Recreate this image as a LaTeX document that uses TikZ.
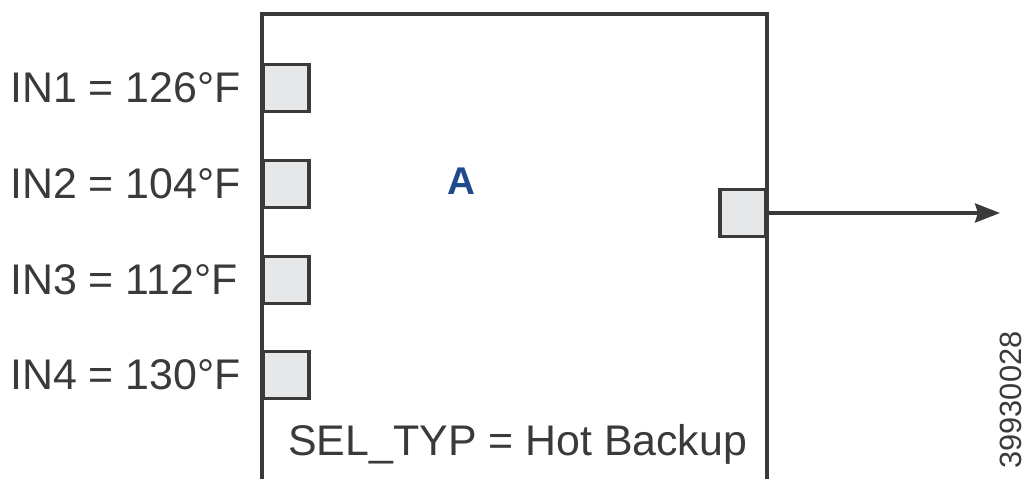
\documentclass[tikz,border=0pt]{standalone}
\usepackage{fontspec}
\setmainfont{Liberation Sans}
\usetikzlibrary{arrows.meta,positioning}
\definecolor{linegray}{RGB}{58,58,58}
\definecolor{portfill}{RGB}{230,231,232}
\definecolor{labelblue}{RGB}{31,74,140}

\begin{document}
\begin{tikzpicture}[
  x=0.02cm, y=-0.02cm,
  every node/.style={font=\fontsize{24.4}{28}\selectfont, text=linegray},
  block/.style={draw=linegray, line width=2.2pt},
  port/.style={draw=linegray, fill=portfill, line width=1.8pt, minimum width=0.92cm, minimum height=0.94cm, inner sep=0pt},
  msg/.style={-{Stealth[length=0.5cm,width=0.38cm,inset=0.06cm]}, draw=linegray, line width=2pt}
]
  \useasboundingbox (0,0) rectangle (1026,479);

  % Function block (runs off the bottom edge)
  \draw[block] (262,479) -- (262,14) -- (767,14) -- (767,479);

  % Input ports and their values
  \foreach \i/\y/\t in {1/88/126, 2/184/104, 3/280/112, 4/375/130} {
    \node[port] (in\i) at (286,\y) {};
    \node[anchor=west, inner sep=0pt] (lab\i) at (10,\y) {IN\i{} = \t°F};
  }

  % Block name and setting
  \node[font=\fontsize{22}{26}\selectfont\bfseries, text=labelblue] (blockname) at (461,181) {A};
  \node[anchor=base west, inner sep=0pt] (seltyp) at (288,455) {SEL\_TYP = Hot Backup};

  % Output port and signal
  \node[port] (out) at (743,213) {};
  \coordinate (outend) at (1000,213);
  \draw[msg] (out.east) -- (outend);

  % Figure number
  \node[rotate=90, inner sep=0pt, font=\fontsize{17.5}{20}\selectfont] (figno) at (1011,400) {39930028};
\end{tikzpicture}
\end{document}
